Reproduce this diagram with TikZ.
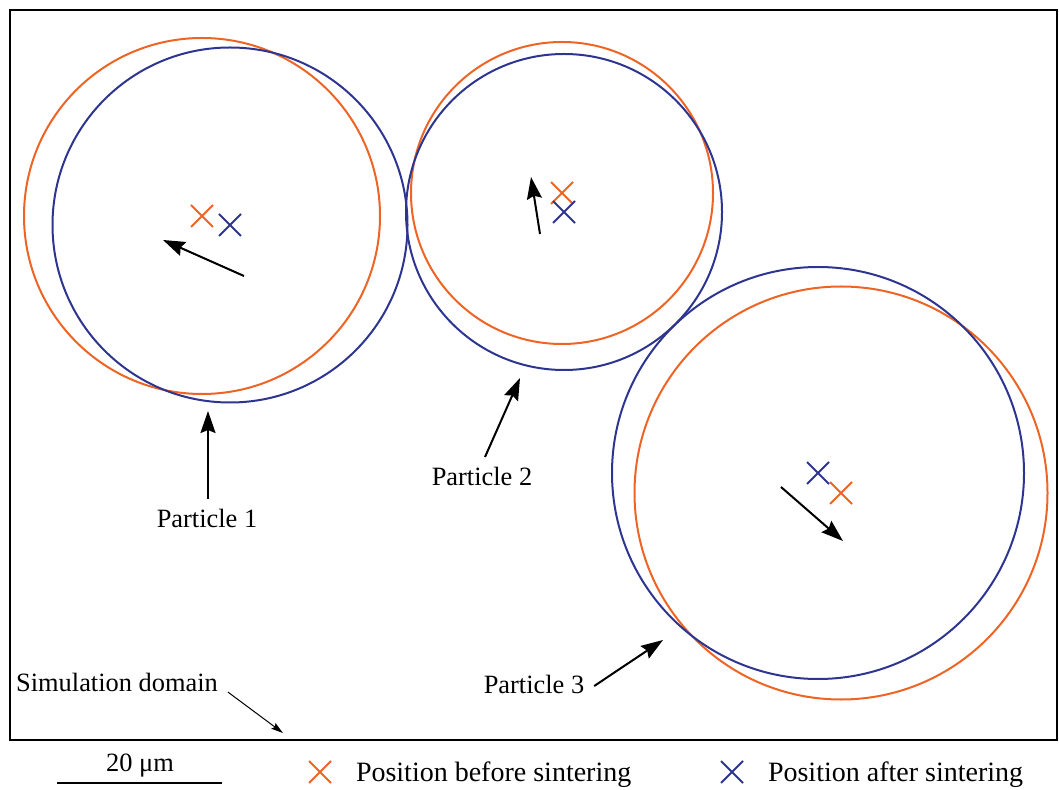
\documentclass[tikz,border=0pt]{standalone}
\usepackage{fontspec}
\setmainfont{Liberation Serif}
\usetikzlibrary{arrows.meta, positioning, shapes.misc}
\definecolor{corange}{HTML}{EE6424}
\definecolor{cblue}{HTML}{2E3590}
\tikzset{
  every picture/.style={line width=1pt, font=\fontsize{13.2}{16}\selectfont},
  grain/.style={draw=#1, circle, inner sep=0pt, outer sep=0pt, line width=1pt},
  centremark/.style={draw=#1, cross out, minimum size=10pt, inner sep=0pt, line width=1pt},
  shift arrow/.style={-{Stealth[length=11pt, width=7.5pt, inset=1.5pt]}, line width=1pt},
  thin arrow/.style={-{Stealth[length=6pt, width=3.5pt, inset=1pt]}, line width=0.5pt},
  tag/.style={inner sep=4.5pt},
  legend/.style={font=\fontsize{14}{16}\selectfont, inner sep=0pt},
}
\begin{document}
\begin{tikzpicture}[x=0.5pt, y=-0.5pt]
  \useasboundingbox (0,0) rectangle (1059,790);
  % simulation domain
  \draw (10,10) rectangle (1057,740);
  % particles: before (orange) and after (blue) sintering
  \foreach \n/\xa/\ya/\ra/\xb/\yb/\rb in {1/202/216/178/230/225/177.5, 2/562/193/151/564/212/158, 3/841/493/206.5/818/473/206} {
    \node[grain=corange, minimum size=\ra pt] (o\n) at (\xa,\ya) {};
    \node[grain=cblue, minimum size=\rb pt] (b\n) at (\xb,\yb) {};
    \node[centremark=corange] (oc\n) at (o\n) {};
    \node[centremark=cblue] (bc\n) at (b\n) {};
  }
  % displacement of the centres
  \coordinate (d1a) at (244,276); \coordinate (d1b) at (163,240);
  \coordinate (d2a) at (540,234); \coordinate (d2b) at (531,177);
  \coordinate (d3a) at (781,487); \coordinate (d3b) at (843,541);
  \draw[shift arrow] (d1a) -- (d1b);
  \draw[shift arrow] (d2a) -- (d2b);
  \draw[shift arrow] (d3a) -- (d3b);
  % labels
  \coordinate (p1tip) at (208,411);
  \coordinate (p2tip) at (520,378);
  \coordinate (p3tip) at (663,640);
  \coordinate (sdtip) at (283,733);
  \node[tag, anchor=north] (t1) at (207,499) {Particle 1};
  \node[tag, anchor=north] (t2) at (482,457) {Particle 2};
  \node[tag] (t3) at (534,684) {Particle 3};
  \node[tag] (sd) at (117,682) {Simulation domain};
  \draw[shift arrow] ([xshift=0.5pt]t1.north) -- (p1tip);
  \draw[shift arrow] ([xshift=1.5pt]t2.north) -- (p2tip);
  \draw[shift arrow] ([yshift=-1pt]t3.east) -- (p3tip);
  \draw[thin arrow] ([yshift=-5pt]sd.east) -- (sdtip);
  % scale bar
  \coordinate (sbl) at (57,783); \coordinate (sbr) at (222,783);
  \draw (sbl) -- (sbr);
  \node[tag] (sbt) at (140,766) {20 μm};
  % legend
  \node[centremark=corange] (lo) at (320,772) {};
  \node[legend, anchor=west, right=12pt of lo, yshift=-1.5pt] (lot) {Position before sintering};
  \node[centremark=cblue] (lb) at (732,772) {};
  \node[legend, anchor=west, right=12pt of lb, yshift=-1.5pt] (lbt) {Position after sintering};
\end{tikzpicture}
\end{document}
